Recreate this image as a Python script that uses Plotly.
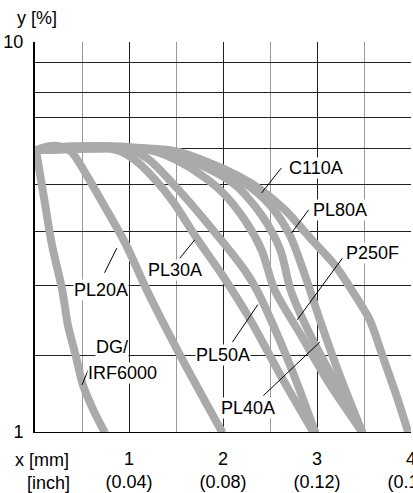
import math
import plotly.graph_objects as go

# ---- data (x in mm, y in %) ----
series_names = ["DG/IRF6000", "PL20A", "PL30A", "PL50A", "P250F", "PL40A", "PL80A", "C110A"]

dg_x = [0.01, 0.10, 0.18, 0.29, 0.35, 0.43, 0.51, 0.62, 0.74]
dg_y = [5.28, 3.93, 3.02, 2.31, 1.88, 1.58, 1.32, 1.14, 1.00]

pl20_x = [0.01, 0.16, 0.29, 0.39, 0.53, 0.69, 0.96, 1.19, 1.54, 1.99]
pl20_y = [5.28, 5.41, 5.38, 5.22, 4.64, 3.98, 3.05, 2.31, 1.58, 1.00]

pl30_x = [0.01, 0.27, 0.69, 0.90, 1.09, 1.28, 1.47, 1.72, 1.99, 2.29, 2.61, 2.96]
pl30_y = [5.28, 5.38, 5.38, 5.25, 4.92, 4.43, 3.89, 3.14, 2.53, 1.94, 1.40, 1.00]

pl50_x = [0.01, 0.27, 0.90, 1.19, 1.51, 1.86, 2.23, 2.36, 2.71, 2.98]
pl50_y = [5.28, 5.38, 5.35, 5.04, 4.22, 3.37, 2.60, 2.31, 1.49, 1.00]

p250_x = [0.01, 1.22, 1.62, 1.97, 2.23, 2.41, 2.55, 2.83, 3.14, 3.48]
p250_y = [5.28, 5.28, 4.81, 4.17, 3.50, 2.93, 2.31, 1.77, 1.32, 1.00]

pl40_x = [0.01, 1.33, 1.76, 2.13, 2.41, 2.61, 2.72, 2.93, 3.24, 3.48]
pl40_y = [5.28, 5.28, 4.84, 4.30, 3.60, 2.93, 2.31, 1.77, 1.28, 1.00]

pl80_x = [0.01, 1.44, 1.86, 2.23, 2.50, 2.71, 2.87, 3.03, 3.24, 3.48]
pl80_y = [5.28, 5.28, 4.89, 4.35, 3.82, 3.20, 2.53, 1.94, 1.40, 1.00]

c110_x = [0.01, 0.69, 1.12, 1.49, 1.83, 2.18, 2.41, 2.66, 2.93, 3.19, 3.37, 3.56, 3.70, 3.85, 3.97]
c110_y = [5.28, 5.41, 5.35, 5.19, 4.92, 4.51, 4.17, 3.71, 3.14, 2.68, 2.31, 1.94, 1.56, 1.23, 1.00]

series_x = [dg_x, pl20_x, pl30_x, pl50_x, p250_x, pl40_x, pl80_x, c110_x]
series_y = [dg_y, pl20_y, pl30_y, pl50_y, p250_y, pl40_y, pl80_y, c110_y]

# labels
label_text = ["C110A", "PL80A", "P250F", "PL30A", "PL20A", "PL50A", "PL40A", "DG/", "IRF6000"]
label_x = [2.69, 2.95, 3.30, 1.19, 0.40, 1.70, 1.97, 0.64, 0.55]
label_y = [4.75, 3.71, 2.88, 2.60, 2.31, 1.58, 1.15, 1.65, 1.42]

# leader lines
leader_x0 = [2.62, 2.91, 3.27, 1.54, 0.74, 2.10, 2.43, 0.50]
leader_y0 = [4.75, 3.71, 2.79, 2.79, 2.56, 1.70, 1.24, 1.32]
leader_x1 = [2.41, 2.73, 2.79, 1.70, 0.87, 2.37, 3.03, 0.59]
leader_y1 = [4.10, 3.24, 1.94, 3.11, 2.96, 2.12, 1.70, 1.49]

# axes
y_grid_vals = [1, 1.57, 2.38, 3.26, 4.30, 5.32, 6.42, 7.44, 8.84, 10]
y_tick_text = ["1", "", "", "", "", "", "", "", "", "10"]
x_tick_vals = [1, 2, 3, 4]
x_tick_text = ["1<br>(0.04)", "2<br>(0.08)", "3<br>(0.12)", "4<br>(0.16)"]

FONT = "Liberation Sans, Arial, sans-serif"
GREY = "#aaaaaa"
LW = 8
PW, PH = 376, 390  # plot area size in px

fig = go.Figure()

for name, xs, ys in zip(series_names, series_x, series_y):
    sizes = [0] * len(xs)
    sizes[-1] = LW
    fig.add_trace(go.Scatter(
        x=xs, y=ys, name=name, mode="lines+markers",
        line=dict(color=GREY, width=LW, shape="spline", smoothing=0.8),
        marker=dict(color=GREY, size=sizes, line=dict(width=0)),
        showlegend=False, hoverinfo="skip",
    ))

for a, b, c, d in zip(leader_x0, leader_y0, leader_x1, leader_y1):
    fig.add_trace(go.Scatter(
        x=[a, c], y=[b, d], mode="lines",
        line=dict(color="black", width=1),
        showlegend=False, hoverinfo="skip",
    ))

for t, lx, ly in zip(label_text, label_x, label_y):
    fig.add_annotation(
        x=lx, y=math.log10(ly), text=t, showarrow=False,
        xanchor="left", yanchor="middle",
        font=dict(family=FONT, size=18, color="black"),
        bgcolor="white", borderpad=0,
    )

fig.add_annotation(xref="paper", yref="paper", x=-20 / PW, y=1 + 24 / PH,
                   text="y [%]", showarrow=False, xanchor="left", yanchor="middle",
                   font=dict(family=FONT, size=18, color="black"))
fig.add_annotation(xref="paper", yref="paper", x=36 / PW, y=-28 / PH,
                   text="x [mm]", showarrow=False, xanchor="right", yanchor="middle",
                   font=dict(family=FONT, size=18, color="black"))
fig.add_annotation(xref="paper", yref="paper", x=37 / PW, y=-51 / PH,
                   text="[inch]", showarrow=False, xanchor="right", yanchor="middle",
                   font=dict(family=FONT, size=18, color="black"))

fig.update_xaxes(
    range=[0, 4], tickvals=x_tick_vals, ticktext=x_tick_text,
    showgrid=True, gridcolor="#222222", gridwidth=1,
    minor=dict(dtick=0.5, showgrid=True, gridcolor="#999999", gridwidth=1),
    zeroline=False, showline=True, linecolor="black", linewidth=1,
    ticks="", ticklabelstandoff=10, automargin=False, ticklabeloverflow="allow",
    tickfont=dict(family=FONT, size=18, color="black"),
)
fig.update_yaxes(
    type="log", range=[0, 1], tickvals=y_grid_vals, ticktext=y_tick_text,
    showgrid=True, gridcolor="#222222", gridwidth=1,
    zeroline=False, showline=True, linecolor="black", linewidth=2,
    ticks="", ticklabelstandoff=6, automargin=False,
    tickfont=dict(family=FONT, size=18, color="black"),
)

fig.update_layout(
    width=413, height=493,
    margin=dict(l=35, r=2, t=42, b=61, autoexpand=False),
    paper_bgcolor="white", plot_bgcolor="white",
    font=dict(family=FONT, size=18, color="black"),
    showlegend=False,
)

# remove the default 8px page margin so the figure fills the window
fig.write_html("out.html", config={"displayModeBar": False},
               post_script="document.body.style.margin='0';")
